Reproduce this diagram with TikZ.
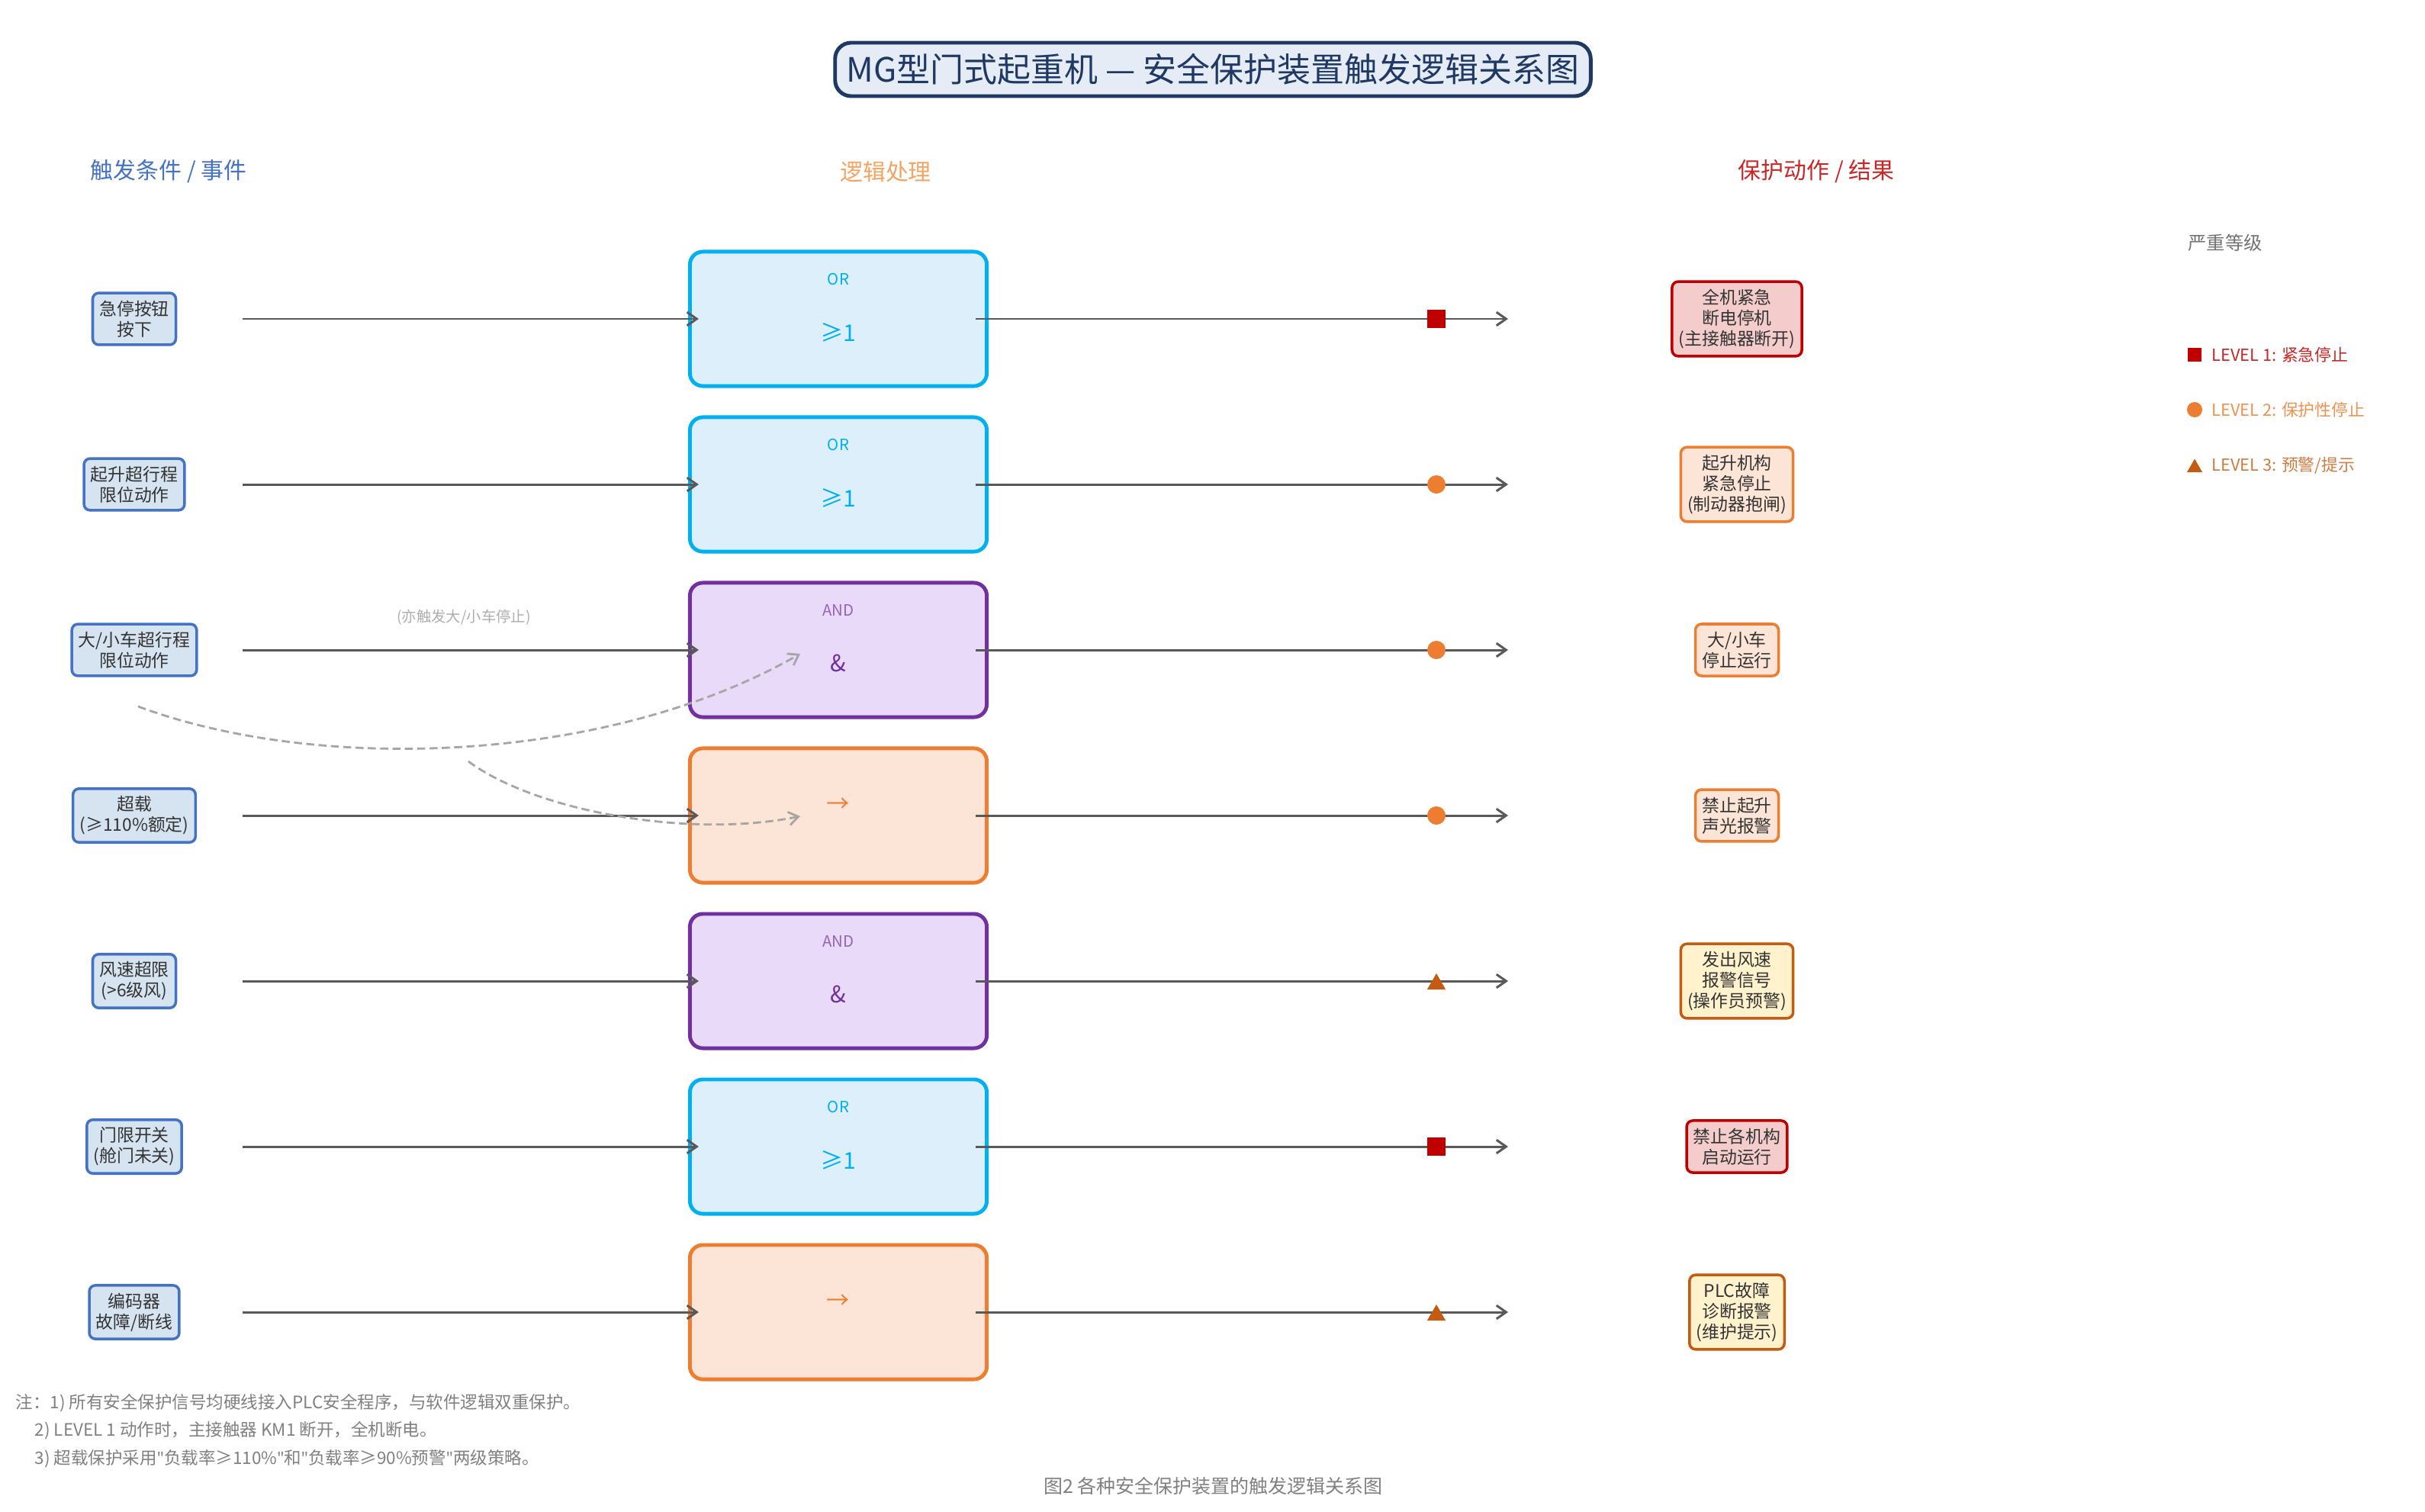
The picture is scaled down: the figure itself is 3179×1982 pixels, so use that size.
\documentclass[tikz,border=0pt]{standalone}
\usepackage{fontspec}
\setmainfont{Noto Sans CJK SC}
\newfontfamily\latinqt{Noto Sans}
\newcommand\strq{{\latinqt"}}
\usepackage{tikz}
\usetikzlibrary{arrows.meta, shapes.geometric, positioning, calc}
\usepackage{xcolor}

\definecolor{navy}{HTML}{1F3864}
\definecolor{titlefill}{HTML}{E6ECF5}
\definecolor{inblue}{HTML}{4472C4}
\definecolor{infill}{HTML}{D6E3F0}
\definecolor{ink}{HTML}{333333}
\definecolor{orc}{HTML}{00B0F0}
\definecolor{orfill}{HTML}{DDEFFA}
\definecolor{andc}{HTML}{7030A0}
\definecolor{andfill}{HTML}{E8DAF8}
\definecolor{impc}{HTML}{ED7D31}
\definecolor{impfill}{HTML}{FCE4D6}
\definecolor{lvone}{HTML}{C00000}
\definecolor{lvonefill}{HTML}{F4CCCC}
\definecolor{lvtwo}{HTML}{ED7D31}
\definecolor{lvtwofill}{HTML}{FCE4D6}
\definecolor{lvthree}{HTML}{C55A11}
\definecolor{lvthreefill}{HTML}{FFF2CC}
\definecolor{wire}{HTML}{595959}
\definecolor{curvegray}{HTML}{A6A6A6}
\definecolor{notegray}{HTML}{808080}
\definecolor{midhead}{HTML}{F4A460}

\tikzset{
  titlebox/.style={
    rectangle, rounded corners=6pt, draw=navy, line width=1.4pt,
    fill=titlefill, minimum width=9.9cm, minimum height=0.7cm,
    text=navy, font=\fontsize{12.5}{14}\selectfont
  },
  colhead/.style={font=\fontsize{8.5}{10}\selectfont},
  trigger/.style={
    rectangle, rounded corners=2.3pt, draw=inblue, line width=1pt,
    fill=infill, inner xsep=2.5pt, inner ysep=2.8pt,
    align=center, text=ink, font=\fontsize{6.5}{7.7}\selectfont
  },
  logic/.style={
    rectangle, rounded corners=4.8pt, line width=1.4pt,
    minimum width=3.89cm, minimum height=1.76cm
  },
  optag/.style={inner sep=0pt, font=\fontsize{5.8}{7}\selectfont},
  opsym/.style={inner sep=0pt, font=\fontsize{8.6}{10}\selectfont},
  result/.style={
    rectangle, rounded corners=2.3pt, line width=1pt,
    inner xsep=2.5pt, inner ysep=2.8pt,
    align=center, text=ink, font=\fontsize{6.5}{7.7}\selectfont
  },
  arrow/.style={-{Straight Barb[length=3.6pt, width=5pt]}, line width=0.85pt, draw=wire},
  darrow/.style={-{Straight Barb[length=3.6pt, width=5pt]}, line width=0.8pt,
    draw=curvegray, dash pattern=on 3pt off 1.6pt},
  sqmark/.style={rectangle, fill=lvone, minimum size=0.24cm, inner sep=0pt},
  dotmark/.style={circle, fill=lvtwo, minimum size=0.24cm, inner sep=0pt},
  trimark/.style={regular polygon, regular polygon sides=3, fill=lvthree,
    minimum size=0.28cm, inner sep=0pt},
  legtext/.style={inner sep=0pt, anchor=west, font=\fontsize{6.2}{7}\selectfont},
  note/.style={inner sep=0pt, anchor=west, text=notegray, font=\fontsize{6.4}{8}\selectfont}
}

\begin{document}
\begin{tikzpicture}[x=0.01cm, y=-0.01cm]

\useasboundingbox (0,0) rectangle (3179,1982);

% Title
\node[titlebox] (title) at (1590,91) {MG型门式起重机 — 安全保护装置触发逻辑关系图};

% Column headings
\node[colhead, text=inblue] (h1) at (221,225) {触发条件 / 事件};
\node[colhead, text=midhead] (h2) at (1161,225) {逻辑处理};
\node[colhead, text=lvone!85] (h3) at (2381,225) {保护动作 / 结果};

% Trigger events
\node[trigger] (in1) at (176,418) {急停按钮\\按下};
\node[trigger] (in2) at (176,635) {起升超行程\\限位动作};
\node[trigger] (in3) at (176,852) {大/小车超行程\\限位动作};
\node[trigger] (in4) at (176,1069) {超载\\(≥110\%额定)};
\node[trigger] (in5) at (176,1286) {风速超限\\(>6级风)};
\node[trigger] (in6) at (176,1503) {门限开关\\(舱门未关)};
\node[trigger] (in7) at (176,1720) {编码器\\故障/断线};

% Logic blocks
\node[logic, draw=orc, fill=orfill] (g1) at (1099,418) {};
\node[optag, text=orc] (g1t) at (1099,366) {OR};
\node[opsym, text=orc] (g1s) at (1099,436) {≥1};

\node[logic, draw=orc, fill=orfill] (g2) at (1099,635) {};
\node[optag, text=orc] (g2t) at (1099,583) {OR};
\node[opsym, text=orc] (g2s) at (1099,653) {≥1};

\node[logic, draw=andc, fill=andfill] (g3) at (1099,852) {};
\node[optag, text=andc!75] (g3t) at (1099,800) {AND};
\node[opsym, text=andc] (g3s) at (1099,869) {\&};

\node[logic, draw=impc, fill=impfill] (g4) at (1099,1069) {};
\node[opsym, text=impc] (g4s) at (1099,1055) {→};

\node[logic, draw=andc, fill=andfill] (g5) at (1099,1286) {};
\node[optag, text=andc!75] (g5t) at (1099,1234) {AND};
\node[opsym, text=andc] (g5s) at (1099,1303) {\&};

\node[logic, draw=orc, fill=orfill] (g6) at (1099,1503) {};
\node[optag, text=orc] (g6t) at (1099,1451) {OR};
\node[opsym, text=orc] (g6s) at (1099,1521) {≥1};

\node[logic, draw=impc, fill=impfill] (g7) at (1099,1720) {};
\node[opsym, text=impc] (g7s) at (1099,1706) {→};

% Protective actions
\node[result, draw=lvone, fill=lvonefill] (out1) at (2277,418) {全机紧急\\断电停机\\(主接触器断开)};
\node[result, draw=lvtwo, fill=lvtwofill] (out2) at (2277,635) {起升机构\\紧急停止\\(制动器抱闸)};
\node[result, draw=lvtwo, fill=lvtwofill] (out3) at (2277,852) {大/小车\\停止运行};
\node[result, draw=lvtwo, fill=lvtwofill] (out4) at (2277,1069) {禁止起升\\声光报警};
\node[result, draw=lvthree, fill=lvthreefill] (out5) at (2277,1286) {发出风速\\报警信号\\(操作员预警)};
\node[result, draw=lvone, fill=lvonefill] (out6) at (2277,1503) {禁止各机构\\启动运行};
\node[result, draw=lvthree, fill=lvthreefill] (out7) at (2277,1720) {PLC故障\\诊断报警\\(维护提示)};

% Signal wires
\coordinate (s1) at (318,418);  \coordinate (e1) at (1977,418);
\coordinate (s2) at (318,635);  \coordinate (e2) at (1977,635);
\coordinate (s3) at (318,852);  \coordinate (e3) at (1977,852);
\coordinate (s4) at (318,1069); \coordinate (e4) at (1977,1069);
\coordinate (s5) at (318,1286); \coordinate (e5) at (1977,1286);
\coordinate (s6) at (318,1503); \coordinate (e6) at (1977,1503);
\coordinate (s7) at (318,1720); \coordinate (e7) at (1977,1720);

\draw[arrow] (s1) -- ([xshift=0.14cm]g1.west);
\draw[arrow] (s2) -- ([xshift=0.14cm]g2.west);
\draw[arrow] (s3) -- ([xshift=0.14cm]g3.west);
\draw[arrow] (s4) -- ([xshift=0.14cm]g4.west);
\draw[arrow] (s5) -- ([xshift=0.14cm]g5.west);
\draw[arrow] (s6) -- ([xshift=0.14cm]g6.west);
\draw[arrow] (s7) -- ([xshift=0.14cm]g7.west);

\draw[arrow] ([xshift=-0.17cm]g1.east) -- (e1);
\draw[arrow] ([xshift=-0.17cm]g2.east) -- (e2);
\draw[arrow] ([xshift=-0.17cm]g3.east) -- (e3);
\draw[arrow] ([xshift=-0.17cm]g4.east) -- (e4);
\draw[arrow] ([xshift=-0.17cm]g5.east) -- (e5);
\draw[arrow] ([xshift=-0.17cm]g6.east) -- (e6);
\draw[arrow] ([xshift=-0.17cm]g7.east) -- (e7);

% Severity marks on the wires
\node[sqmark] (m1) at (1883,418) {};
\node[dotmark] (m2) at (1883,635) {};
\node[dotmark] (m3) at (1883,852) {};
\node[dotmark] (m4) at (1883,1069) {};
\node[trimark] (m5) at (1883,1290) {};
\node[sqmark] (m6) at (1883,1503) {};
\node[trimark] (m7) at (1883,1724) {};

% Cross links
\coordinate (x1a) at (181,926);  \coordinate (x1b) at (1049,857);
\coordinate (x2a) at (614,998);  \coordinate (x2b) at (1049,1070);
\draw[darrow] (x1a) .. controls (420,1015) and (800,1000) .. (x1b);
\draw[darrow] (x2a) .. controls (700,1062) and (900,1100) .. (x2b);
\node[inner sep=0pt, text=black!32, font=\fontsize{5.5}{6.5}\selectfont] (xlab) at (608,809) {(亦触发大/小车停止)};

% Severity legend
\node[inner sep=0pt, text=black!55, font=\fontsize{6.9}{8}\selectfont] (sev) at (2917,318) {严重等级};
\node[sqmark, minimum size=0.18cm] (k1) at (2877,465) {};
\node[dotmark, minimum size=0.2cm] (k2) at (2877,537) {};
\node[trimark, minimum size=0.23cm] (k3) at (2877,613) {};
\node[legtext, text=lvone!85] (k1t) at (2899,465) {LEVEL 1: 紧急停止};
\node[legtext, text=lvtwo!85] (k2t) at (2899,537) {LEVEL 2: 保护性停止};
\node[legtext, text=lvthree!80] (k3t) at (2899,610) {LEVEL 3: 预警/提示};

% Notes and caption
\node[note] (n1) at (20,1839) {注：1) 所有安全保护信号均硬线接入PLC安全程序，与软件逻辑双重保护。};
\node[note] (n2) at (45,1875) {2) LEVEL 1 动作时，主接触器 KM1 断开，全机断电。};
\node[note] (n3) at (45,1912) {3) 超载保护采用\strq 负载率≥110\%\strq 和\strq 负载率≥90\%预警\strq 两级策略。};
\node[inner sep=0pt, text=notegray, font=\fontsize{7.1}{8.5}\selectfont] (cap) at (1590,1948) {图2 各种安全保护装置的触发逻辑关系图};

\end{tikzpicture}
\end{document}
